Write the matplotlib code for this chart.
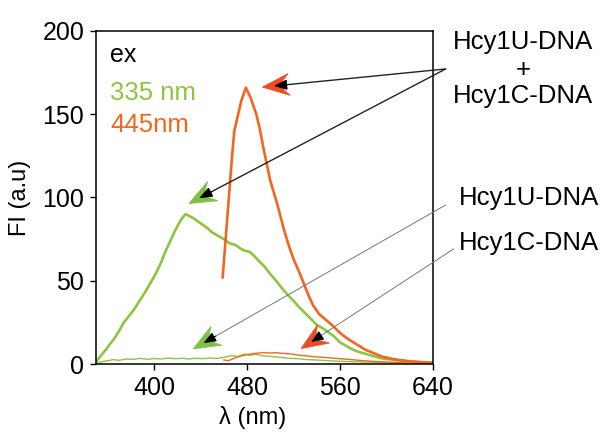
import numpy as np
import matplotlib
matplotlib.use("Agg")
import matplotlib.pyplot as plt
from matplotlib.patches import Polygon
from matplotlib.transforms import IdentityTransform

plt.rcParams['font.family'] = ['Liberation Sans', 'DejaVu Sans']

GREEN = '#8cc63f'
ORANGE = '#f4661f'
HEAD_GREEN = '#7dc143'
HEAD_ORANGE = '#ef4b22'

# mixture (Hcy1U-DNA + Hcy1C-DNA), ex 335 nm
mix335_wl = [350, 353, 356, 359, 362, 366, 370, 374, 378, 383, 388, 393, 398, 402,
             406, 410, 414, 418, 421, 424, 427, 430, 434, 438, 442, 446, 450, 455,
             460, 465, 470, 474, 478, 482, 486, 490, 495, 500, 505, 510, 515, 520,
             525, 530, 535, 540, 545, 550, 555, 560, 565, 570, 575, 580, 585, 590,
             595, 600, 610, 620, 630, 640]
mix335_fi = [1.0, 4.0, 6.5, 9.0, 12.0, 15.5, 20.0, 25.0, 28.5, 33.0, 38.5, 44.0, 50.0, 55.0,
             61.0, 68.0, 74.0, 80.0, 84.0, 87.5, 90.0, 89.0, 87.5, 85.5, 83.5, 81.5, 79.0, 77.0,
             75.0, 72.5, 71.5, 69.5, 68.0, 67.5, 65.0, 62.0, 58.5, 54.0, 50.0, 45.5, 41.5, 38.0,
             34.0, 30.5, 27.0, 23.5, 21.5, 19.0, 16.5, 13.0, 11.0, 9.0, 7.5, 6.5, 5.5, 4.5,
             3.5, 3.0, 2.2, 1.6, 1.2, 0.9]

# mixture, ex 445 nm
mix445_wl = [459, 461, 463, 465, 467, 469, 471, 473, 475, 477, 479, 481, 483, 486,
             488, 491, 494, 497, 500, 503, 506, 509, 512, 516, 520, 525, 529, 533,
             537, 542, 547, 553, 558, 562, 568, 575, 582, 589, 596, 604, 612, 620,
             630, 640]
mix445_fi = [52, 70, 88, 106, 124, 140, 146, 152, 158, 162, 166, 163, 160, 154,
             150, 141, 130, 120, 110, 103, 96, 88, 80, 71, 63, 55, 48, 41,
             35, 30, 27, 23.5, 20, 17.5, 14.5, 11.5, 8.5, 6.5, 4.5, 3.2, 2.3, 1.6,
             1.0, 0.6]

# Hcy1U-DNA, ex 335 nm
u335_wl = [352, 356, 360, 365, 370, 376, 382, 388, 394, 400, 406, 412, 418, 424,
           430, 436, 442, 448, 454, 460, 466, 472, 478, 482, 488, 494, 500, 508,
           516, 524, 532, 540, 550, 560, 570, 580, 590, 600, 610, 620, 630, 640]
u335_fi = [0.6, 1.5, 2.0, 2.6, 2.2, 3.0, 2.8, 3.4, 2.8, 3.3, 3.0, 3.6, 3.2, 3.4,
           3.0, 3.5, 3.2, 3.6, 3.3, 4.0, 5.0, 4.6, 6.0, 5.2, 5.8, 4.8, 4.6, 4.0,
           3.4, 3.2, 2.6, 2.4, 2.0, 1.6, 1.4, 1.2, 1.0, 0.8, 0.7, 0.6, 0.5, 0.5]

# Hcy1C-DNA, ex 445 nm
c445_wl = [460, 464, 468, 472, 476, 480, 485, 490, 495, 500, 505, 510, 515, 520,
           526, 532, 538, 545, 552, 560, 570, 580, 590, 600, 610, 620, 630, 640]
c445_fi = [2.4, 2.0, 3.2, 4.2, 5.0, 5.6, 6.2, 6.6, 6.8, 6.6, 6.8, 6.4, 6.2, 5.8,
           5.2, 4.8, 4.4, 4.0, 3.6, 3.2, 2.6, 2.0, 1.5, 1.2, 0.9, 0.6, 0.4, 0.3]

xticks = [400, 480, 560, 640]
yticks = [0, 50, 100, 150, 200]

fig = plt.figure(figsize=(6.06, 4.32), dpi=100)
ax = fig.add_axes([96 / 606, 1 - 364 / 432, 337 / 606, 333 / 432])

ax.plot(u335_wl, u335_fi, color=GREEN, lw=1.0)
ax.plot(c445_wl, c445_fi, color=ORANGE, lw=1.0)
ax.plot(mix335_wl, mix335_fi, color=GREEN, lw=1.9)
ax.plot(mix445_wl, mix445_fi, color=ORANGE, lw=1.9)

ax.set_xlim(350, 640)
ax.set_ylim(0, 200)
ax.set_xticks(xticks)
ax.set_yticks(yticks)
ax.tick_params(direction='out', length=4.5, width=1.0, labelsize=18, pad=4,
               top=False, right=False)
for s in ax.spines.values():
    s.set_linewidth(1.1)
ax.set_xlabel('λ (nm)', fontsize=17)
ax.xaxis.set_label_coords(0.465, -0.125)
ax.set_ylabel('FI (a.u)', fontsize=17, labelpad=8)

# excitation legend
ax.text(0.042, 0.907, 'ex', transform=ax.transAxes, fontsize=18, color='black')
ax.text(0.042, 0.793, '335 nm', transform=ax.transAxes, fontsize=18.5, color=GREEN)
ax.text(0.042, 0.697, '445nm', transform=ax.transAxes, fontsize=18.5, color=ORANGE)

# labels on the right
lab = 18.5
ax.text(717.7, 189.2, 'Hcy1U-DNA', fontsize=lab, ha='center', va='baseline', clip_on=False)
ax.text(717.7, 176.6, '+', fontsize=lab, ha='center', va='center', clip_on=False)
ax.text(717.7, 156.8, 'Hcy1C-DNA', fontsize=lab, ha='center', va='baseline', clip_on=False)
ax.text(662.0, 95.5, 'Hcy1U-DNA', fontsize=lab, ha='left', va='baseline', clip_on=False)
ax.text(662.0, 68.5, 'Hcy1C-DNA', fontsize=lab, ha='left', va='baseline', clip_on=False)

# (start, black tip, head colour, line colour, line width)
arrows = [
    ((650.9, 177.2), (503.4, 167.0), HEAD_ORANGE, '#222222', 1.0),
    ((650.9, 177.2), (439.1, 99.7), HEAD_GREEN, '#222222', 1.0),
    ((650.9, 95.5), (442.6, 12.6), HEAD_GREEN, '#777777', 0.7),
    ((657.7, 69.1), (535.1, 13.2), HEAD_ORANGE, '#777777', 0.7),
]

for start, tip, hcol, lcol, lw in arrows:
    p0 = ax.transData.transform(start)
    p1 = ax.transData.transform(tip)
    d = (p1 - p0) / np.hypot(*(p1 - p0))
    n = np.array([-d[1], d[0]])
    t = p1 + 12 * d
    L, W = 27, 11
    head = [t, t - L * d + W * n, t - 0.62 * L * d, t - L * d - W * n]
    ax.add_patch(Polygon(head, closed=True, facecolor=hcol, edgecolor=hcol,
                         lw=0.5, transform=IdentityTransform(), clip_on=False, zorder=5))
    ax.annotate('', xy=tip, xytext=start, annotation_clip=False, zorder=6,
                arrowprops=dict(arrowstyle='-|>,head_length=0.75,head_width=0.3',
                                color=lcol, lw=lw, shrinkA=0, shrinkB=0,
                                mutation_scale=10))
    # black tip on top of coloured head
    ax.annotate('', xy=tip, xytext=(tip[0] + (start[0] - tip[0]) * 0.05,
                                    tip[1] + (start[1] - tip[1]) * 0.05),
                annotation_clip=False, zorder=7,
                arrowprops=dict(arrowstyle='-|>,head_length=0.75,head_width=0.3',
                                color='black', lw=0.8, shrinkA=0, shrinkB=0,
                                mutation_scale=10))

fig.savefig('out.png', dpi=100)
